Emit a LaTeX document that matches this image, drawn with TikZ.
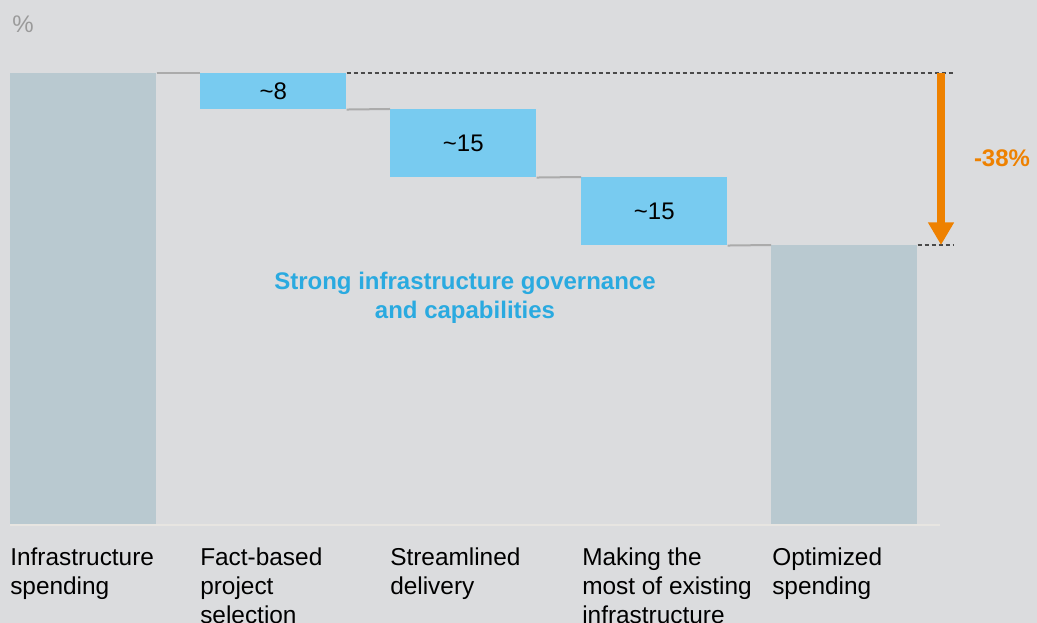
\documentclass[tikz,border=0pt]{standalone}
\usepackage{fontspec}
\setmainfont{Liberation Sans}
\usetikzlibrary{arrows.meta}
\definecolor{bg}{HTML}{DBDCDE}
\definecolor{totalbar}{HTML}{B9C9D0}
\definecolor{stepbar}{HTML}{78CBF0}
\definecolor{conngray}{HTML}{ABABAB}
\definecolor{dropor}{HTML}{EE8100}
\definecolor{govblue}{HTML}{2AAAE0}
\definecolor{pctgray}{HTML}{9A9A9A}
\definecolor{axiscol}{HTML}{E7E5E1}
\definecolor{guidecol}{HTML}{4A4A4A}
\begin{document}
\begin{tikzpicture}[x=0.75pt,y=-0.75pt,
  txt/.style={font=\fontsize{18pt}{21.75pt}\selectfont, inner sep=0pt},
  totalbox/.style={fill=totalbar, draw=none, minimum width=109.5pt, anchor=north west, inner sep=0pt},
  stepbox/.style={fill=stepbar, draw=none, minimum width=109.5pt, anchor=north west, inner sep=0pt, txt},
  conn/.style={draw=conngray, line width=1.5pt},
  guide/.style={draw=guidecol, line width=0.85pt, dash pattern=on 3pt off 2.25pt},
  drop/.style={draw=dropor, line width=6.5pt, -{Triangle[width=18.5pt,length=17pt]}},
  axisline/.style={draw=axiscol, line width=1.5pt},
  lbl/.style={inner sep=0pt, font=\fontsize{18.3pt}{21.75pt}\selectfont, anchor=north west, align=left, text=black}
]
\fill[bg] (0,0) rectangle (1037,623);
\useasboundingbox (0,0) rectangle (1037,623);

% percent
\node[txt, text=pctgray, anchor=north west] (pct) at (12,15.5) {\%};

% bars
\node[totalbox, minimum height=338.25pt] (b1) at (10,73) {};
\node[stepbox, minimum height=27pt] (b2) at (200,73) {\textasciitilde 8};
\node[stepbox, minimum height=51pt] (b3) at (390,109) {\textasciitilde 15};
\node[stepbox, minimum height=51pt] (b4) at (581,177) {\textasciitilde 15};
\node[totalbox, minimum height=209.25pt] (b5) at (771,245) {};

% axis line
\coordinate (axisR) at (940,525);
\draw[axisline] (b1.south west |- axisR) -- (axisR);

% connectors
\draw[conn] (b1.north east) -- (b2.north west);
\draw[conn] (b2.south east) -- (b3.north west);
\draw[conn] (b3.south east) -- (b4.north west);
\draw[conn] (b4.south east) -- (b5.north west);

% guides
\coordinate (topR) at (953,73);
\coordinate (botR) at (953,245);
\draw[guide] (b2.north east) -- (topR);
\draw[guide] (b5.north east) -- (botR);

% arrow
\coordinate (aTop) at (941,73);
\coordinate (aBot) at (941,245);
\draw[drop] (aTop) -- (aBot);
\node[txt, text=dropor, font=\fontsize{18pt}{21.75pt}\selectfont\bfseries] (pctdrop) at (1002,158) {-38\%};

% governance text
\node[txt, text=govblue, align=center, anchor=north, font=\fontsize{18pt}{21.75pt}\selectfont\bfseries] (gov) at (465,272) {Strong infrastructure governance\\and capabilities};

% labels
\node[lbl] (l1) at (10,548) {Infrastructure\\spending};
\node[lbl] (l2) at (200,548) {Fact-based\\project\\selection};
\node[lbl] (l3) at (390,548) {Streamlined\\delivery};
\node[lbl] (l4) at (582,548) {Making the\\most of existing\\infrastructure};
\node[lbl] (l5) at (772,548) {Optimized\\spending};
\end{tikzpicture}
\end{document}
